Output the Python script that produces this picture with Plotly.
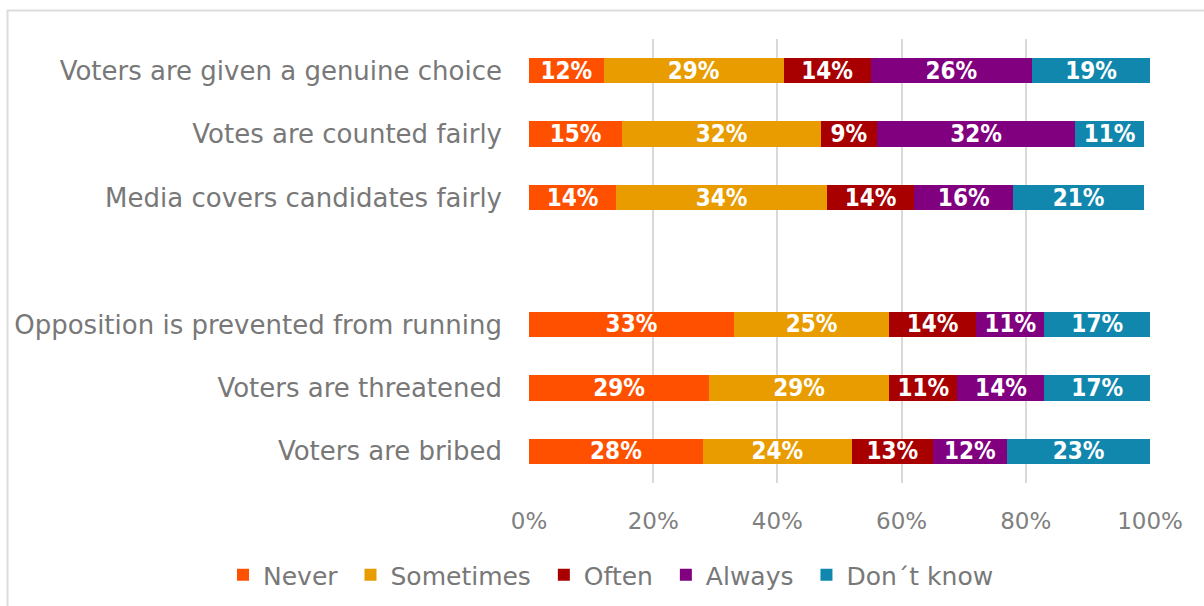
import plotly.graph_objects as go

# Survey statements (a blank row separates the two groups)
categories = [
    "Voters are given a genuine choice",
    "Votes are counted fairly",
    "Media covers candidates fairly",
    " ",
    "Opposition is prevented from running",
    "Voters are threatened",
    "Voters are bribed",
]

never = [12, 15, 14, None, 33, 29, 28]
sometimes = [29, 32, 34, None, 25, 29, 24]
often = [14, 9, 14, None, 14, 11, 13]
always = [26, 32, 16, None, 11, 14, 12]
dont_know = [19, 11, 21, None, 17, 17, 23]

series_names = ["Never", "Sometimes", "Often", "Always", "Don\u00b4t know"]
series_values = [never, sometimes, often, always, dont_know]
series_colors = ["#FF5000", "#E89C00", "#A80000", "#800080", "#1287AD"]

tick_vals = [0, 20, 40, 60, 80, 100]
tick_text = ["0%", "20%", "40%", "60%", "80%", "100%"]

label_font = "DejaVu Sans Condensed, sans-serif"
text_font = "DejaVu Sans, sans-serif"
gray = "#787878"

fig = go.Figure()
for name, vals, color in zip(series_names, series_values, series_colors):
    fig.add_trace(go.Bar(
        y=categories,
        x=vals,
        # a non-breaking space widens the gap between legend entries
        name=name + "\u00a0",
        orientation="h",
        marker=dict(color=color, line=dict(width=0)),
        text=[f"{v}%" if v is not None else "" for v in vals],
        textposition="inside",
        insidetextanchor="middle",
        textangle=0,
        textfont=dict(family=label_font, size=24, color="white", weight="bold"),
        constraintext="none",
        cliponaxis=False,
    ))

W, H = 1204, 606
ml, mr, mt, mb = 529, 54, 39, 123
pw, ph = W - ml - mr, H - mt - mb

def px_x(x):
    return (x - ml) / pw

def px_y(y):
    return (H - mb - y) / ph

# Light frame around the chart area
fig.add_shape(type="rect", xref="paper", yref="paper",
              x0=px_x(7.5), x1=px_x(1230), y0=px_y(10.5), y1=px_y(640),
              line=dict(color="#DCDCDC", width=2), fillcolor="rgba(0,0,0,0)",
              layer="below")

fig.update_layout(
    width=W, height=H,
    barmode="stack",
    bargap=0.6,
    plot_bgcolor="white",
    paper_bgcolor="white",
    margin=dict(l=ml, r=mr, t=mt, b=mb, autoexpand=False),
    uniformtext=dict(mode="show", minsize=24),
    font=dict(family=text_font, color=gray),
    xaxis=dict(
        range=[0, 100],
        tickvals=tick_vals,
        ticktext=tick_text,
        showgrid=True,
        gridcolor="#D9D9D9",
        gridwidth=2,
        zeroline=False,
        showline=False,
        ticks="",
        ticklabelstandoff=22,
        tickfont=dict(family=text_font, size=23, color="#808080"),
        fixedrange=True,
    ),
    yaxis=dict(
        categoryorder="array",
        categoryarray=categories,
        autorange="reversed",
        showgrid=False,
        zeroline=False,
        showline=False,
        ticks="",
        ticklabelstandoff=26,
        tickfont=dict(family=text_font, size=26, color=gray),
        automargin=False,
    ),
    legend=dict(
        orientation="h",
        x=px_x(223), xanchor="left",
        y=px_y(575), yanchor="middle",
        font=dict(family=text_font, size=25, color=gray),
        itemwidth=30,
        traceorder="normal",
        bgcolor="rgba(0,0,0,0)",
    ),
    showlegend=True,
)

fig.write_html("out.html")
